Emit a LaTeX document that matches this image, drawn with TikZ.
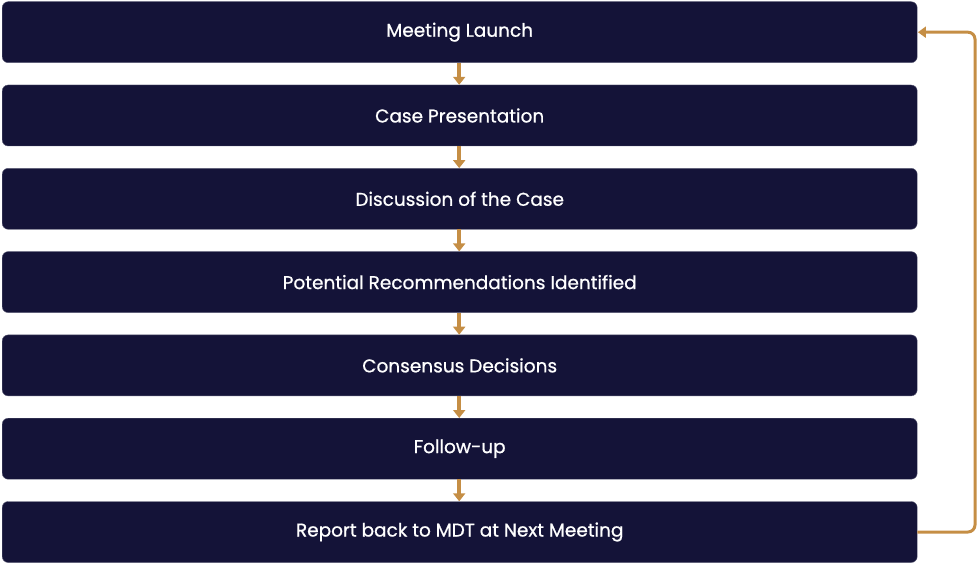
\documentclass[tikz,border=0pt]{standalone}
\usepackage{fontspec}
\setmainfont[FakeBold=0.8]{Poppins}
\usetikzlibrary{arrows.meta}
\definecolor{navy}{HTML}{141338}
\definecolor{gold}{HTML}{C58E45}
\begin{document}
\begin{tikzpicture}[x=1pt,y=-1pt,
  stepbox/.style={fill=navy,draw=navy!70!white,line width=0.4pt,rounded corners=6pt,minimum width=915pt,minimum height=61pt,inner sep=0pt,text=white,font=\fontsize{18.5}{21}\selectfont,anchor=north west},
  flow/.style={draw=gold,line width=3.5pt,-{Triangle[width=12pt,length=8pt]}},
  back/.style={draw=gold,line width=3pt,rounded corners=7pt,-{Triangle[width=11pt,length=8pt]}}]
\useasboundingbox (0,0) rectangle (980,564);
\node[stepbox] (b1) at (2,1.5) {Meeting Launch};
\node[stepbox] (b2) at (2,84.8) {Case Presentation};
\node[stepbox] (b3) at (2,168.1) {Discussion of the Case};
\node[stepbox] (b4) at (2,251.4) {Potential Recommendations Identified};
\node[stepbox] (b5) at (2,334.7) {Consensus Decisions};
\node[stepbox] (b6) at (2,418) {Follow-up};
\node[stepbox] (b7) at (2,501.3) {Report back to MDT at Next Meeting};
\foreach \a/\b in {b1/b2,b2/b3,b3/b4,b4/b5,b5/b6,b6/b7}{
  \draw[flow] ([xshift=-0.5pt]\a.south) -- ([xshift=-0.5pt]\b.north);
}
\coordinate (c1) at (975,0);
\draw[back] (b7.east) -- (b7.east -| c1) -- (b1.east -| c1) -- ([xshift=0.5pt]b1.east);
\end{tikzpicture}
\end{document}
